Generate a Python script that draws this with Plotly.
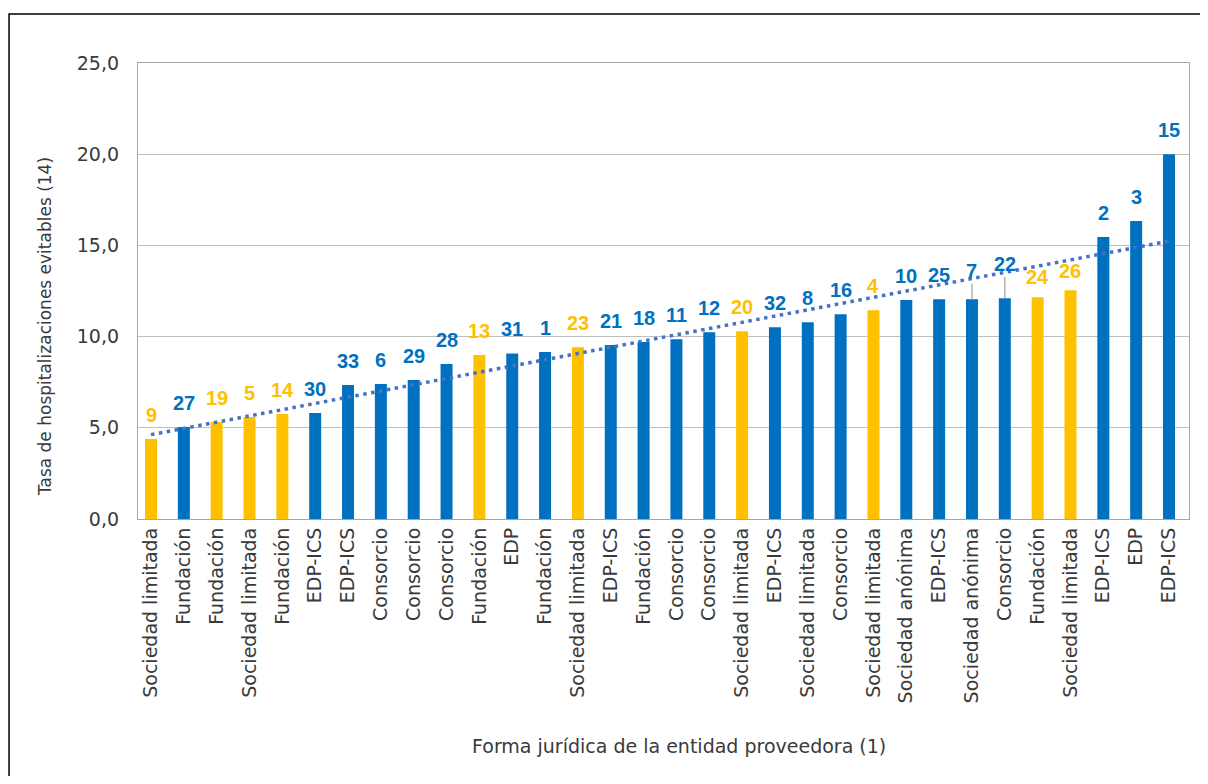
import numpy as np
import plotly.graph_objects as go

# ---------------- data ----------------
formas = [
    "Sociedad limitada", "Fundación", "Fundación", "Sociedad limitada", "Fundación",
    "EDP-ICS", "EDP-ICS", "Consorcio", "Consorcio", "Consorcio",
    "Fundación", "EDP", "Fundación", "Sociedad limitada", "EDP-ICS",
    "Fundación", "Consorcio", "Consorcio", "Sociedad limitada", "EDP-ICS",
    "Sociedad limitada", "Consorcio", "Sociedad limitada", "Sociedad anónima", "EDP-ICS",
    "Sociedad anónima", "Consorcio", "Fundación", "Sociedad limitada", "EDP-ICS",
    "EDP", "EDP-ICS",
]
ids = [9, 27, 19, 5, 14, 30, 33, 6, 29, 28, 13, 31, 1, 23, 21, 18, 11, 12, 20, 32,
       8, 16, 4, 10, 25, 7, 22, 24, 26, 2, 3, 15]
tasas = [4.39, 5.04, 5.32, 5.59, 5.76, 5.81, 7.35, 7.40, 7.62, 8.50,
         8.99, 9.08, 9.15, 9.41, 9.54, 9.70, 9.85, 10.24, 10.29, 10.51,
         10.79, 11.23, 11.45, 12.00, 12.05, 12.05, 12.10, 12.16, 12.54, 15.46,
         16.34, 20.00]
grupo = ["Y", "B", "Y", "Y", "Y", "B", "B", "B", "B", "B",
         "Y", "B", "B", "Y", "B", "B", "B", "B", "Y", "B",
         "B", "B", "Y", "B", "B", "B", "B", "Y", "Y", "B",
         "B", "B"]
y_ticks = [0, 5, 10, 15, 20, 25]

# ---------------- styles ----------------
COL = {"B": "#0070C0", "Y": "#FFC000"}
FONT = "DejaVu Sans, Open Sans, sans-serif"
LFONT = "Liberation Sans, Arial, sans-serif"
TXT = "#3a3a3a"
# label placement tweaks (pixels above bar top; leader line offsets)
label_shift = {24: 20, 26: 19.5}
leader = {7: -28, 22: -34}

x = list(range(len(tasas)))
colors = [COL[g] for g in grupo]

fig = go.Figure()
fig.add_trace(go.Bar(
    x=x, y=tasas, marker=dict(color=colors, line=dict(width=0)),
    showlegend=False, hoverinfo="skip",
))

# linear trendline fitted to the data
coef = np.polyfit(x, tasas, 1)
tx = [x[0], x[-1]]
ty = list(np.polyval(coef, tx))
fig.add_trace(go.Scatter(
    x=tx, y=ty, mode="lines",
    line=dict(color="#4472C4", width=3.5, dash="3.5px,4.5px"),
    showlegend=False, hoverinfo="skip",
))

annotations = []
for xi, v, lab, g in zip(x, tasas, ids, grupo):
    f = dict(family=LFONT, size=20, color=COL[g], weight="bold")
    if lab in leader:
        annotations.append(dict(
            x=xi, y=v, xref="x", yref="y", text=str(lab), font=f,
            showarrow=True, ax=0, ay=leader[lab], arrowhead=0,
            arrowwidth=1.3, arrowcolor="#A6A6A6", standoff=0,
        ))
    else:
        annotations.append(dict(
            x=xi, y=v, xref="x", yref="y", text=str(lab), font=f,
            showarrow=False, yanchor="middle", yshift=label_shift.get(lab, 24),
        ))

# axis titles
annotations.append(dict(
    x=0.5147, y=-0.4978, xref="paper", yref="paper",
    text="Forma jurídica de la entidad proveedora (1)", showarrow=False,
    font=dict(family=FONT, size=19, color=TXT), xanchor="center", yanchor="middle",
))
annotations.append(dict(
    x=-0.0885, y=0.423, xref="paper", yref="paper", textangle=-90,
    text="Tasa de hospitalizaciones evitables (14)", showarrow=False,
    font=dict(family=FONT, size=17, color=TXT), xanchor="center", yanchor="middle",
))

# page body has an 8px margin; figure is sized/placed to compensate
fig.update_layout(
    width=1200, height=768,
    margin=dict(l=130, r=19, t=55, b=257, autoexpand=False),
    paper_bgcolor="white", plot_bgcolor="white",
    bargap=0.635,
    separators=",.",
    font=dict(family=FONT, size=19, color=TXT),
    annotations=annotations,
    shapes=[dict(
        type="rect", xref="paper", yref="paper",
        x0=-0.1227, x1=1.2, y0=-0.8, y1=1.1075,
        line=dict(color="black", width=1.5), fillcolor="rgba(0,0,0,0)", layer="below",
    )],
)
fig.update_xaxes(
    range=[-0.396, 31.609], tickmode="array", tickvals=x, ticktext=formas,
    tickangle=-90, showgrid=False, zeroline=False,
    showline=True, mirror=True, linecolor="#A6A6A6", linewidth=1.3,
    ticks="", ticklabelstandoff=0,
    tickfont=dict(family=FONT, size=19, color=TXT),
)
fig.update_yaxes(
    range=[0, 25], tickmode="array", tickvals=y_ticks, tickformat=".1f",
    showgrid=True, gridcolor="#BFBFBF", gridwidth=1.2, zeroline=False,
    showline=True, mirror=True, linecolor="#A6A6A6", linewidth=1.3,
    ticks="", ticklabelstandoff=14,
    tickfont=dict(family=FONT, size=19, color=TXT),
)

fig.write_html("out.html", config={"displayModeBar": False})
